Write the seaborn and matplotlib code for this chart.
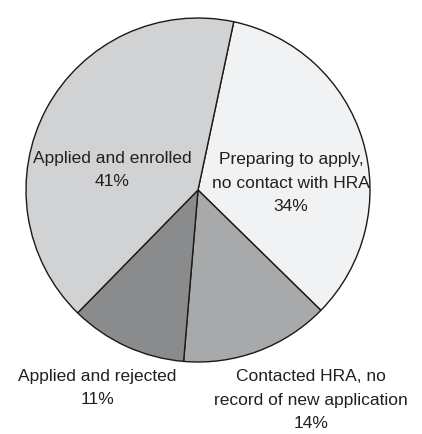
import matplotlib
matplotlib.use("Agg")
import matplotlib.pyplot as plt
from matplotlib import font_manager
import seaborn as sns

categories = ["Preparing to apply,\nno contact with HRA", "Contacted HRA, no\nrecord of new application",
              "Applied and rejected", "Applied and enrolled"]
values = [34, 14, 11, 41]
colors = ["#f1f2f3", "#a8a9ab", "#8a8b8d", "#d1d2d4"]

sns.set_theme(style="white")
names = {f.name for f in font_manager.fontManager.ttflist}
fam = [n for n in ["Liberation Sans Narrow", "Liberation Sans", "DejaVu Sans"] if n in names]
plt.rcParams['font.family'] = fam

W, H = 422, 434
fig = plt.figure(figsize=(W / 100, H / 100), dpi=100)
ax = fig.add_axes([0, 0, 1, 1])
cx, cy, R = 198, 190, 172
ax.pie(values, colors=colors, startangle=78, counterclock=False,
       wedgeprops=dict(edgecolor="#1a1a1a", linewidth=1.0))
ax.set_xlim(-cx / R, (W - cx) / R)
ax.set_ylim(-(H - cy) / R, cy / R)
ax.set_aspect("auto")
ax.axis("off")

# label positions in pixel coords (center of text block)
label_pos = [(291, 183), (311, 400), (97, 388), (112, 170)]
for name, v, (px, py) in zip(categories, values, label_pos):
    ax.text(px / W, 1 - py / H, f"{name}\n{v}%", transform=ax.transAxes,
            ha="center", va="center", fontsize=12.5, color="#231f20", linespacing=1.7)

fig.savefig("out.png", dpi=100, facecolor="white")
